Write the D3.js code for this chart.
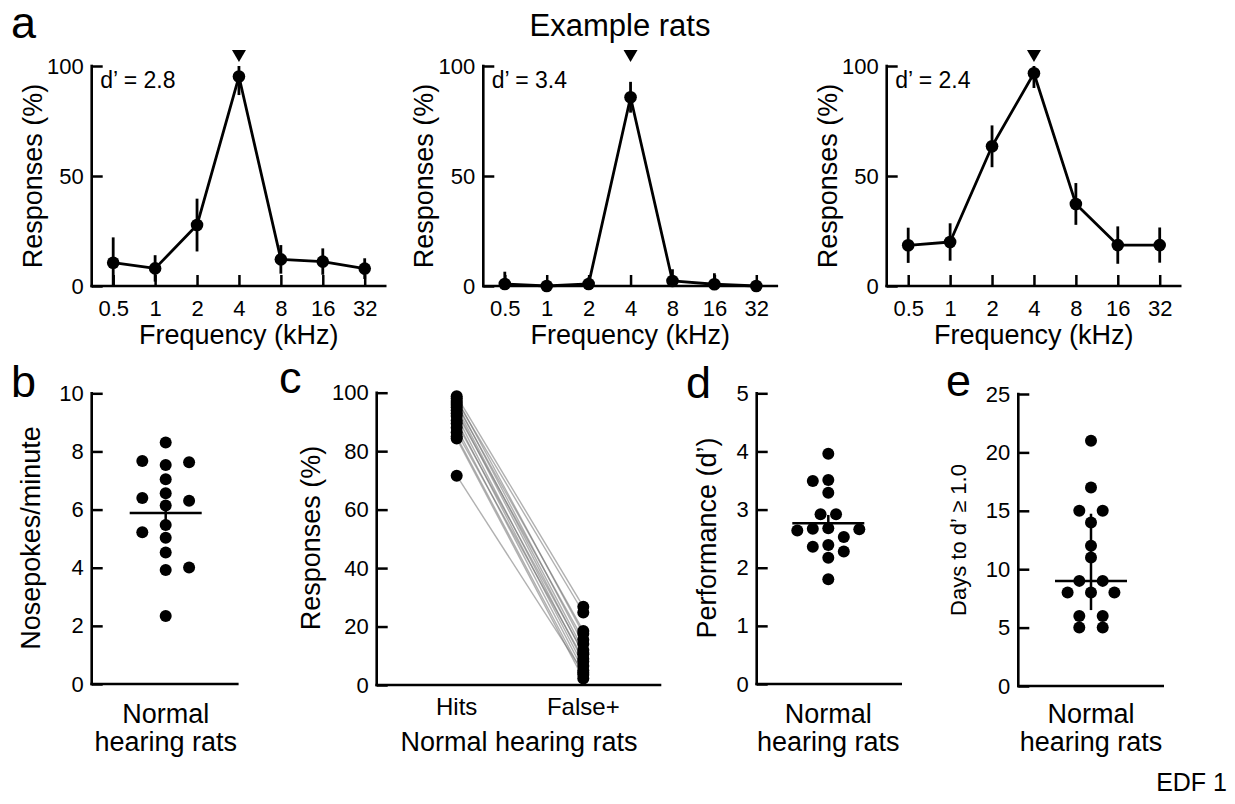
<!DOCTYPE html>
<html>
<head>
<meta charset="utf-8">
<script src="https://cdn.jsdelivr.net/npm/d3@7"></script>
<style>
    body { margin: 0; background: #fff; }
</style>
</head>
<body>
<div id="canvas"></div>
<script>
"use strict"

let svgWidth = 1235
let svgHeight = 804
let fontFamily = "'Liberation Sans', Arial, Helvetica, sans-serif"

// panel a: three example rats, responses at each tone frequency (mean and error)
let freqLabels = ["0.5", "1", "2", "4", "8", "16", "32"]
let targetFreq = "4"
let rat1Resp = [10.6, 8.0, 27.7, 95.2, 12.1, 11.1, 7.9]
let rat1Err = [11.5, 6, 12, 8.4, 6.5, 6, 4.7]
let rat2Resp = [0.9, 0, 0.9, 85.8, 2.3, 0.8, 0]
let rat2Err = [5.6, 0, 3, 7, 5.3, 5, 0]
let rat3Resp = [18.5, 20.0, 63.5, 96.7, 37.3, 18.6, 18.6]
let rat3Err = [8, 8.5, 9.5, 6.7, 9.5, 8.5, 8]
let ratDPrime = ["2.8", "3.4", "2.4"]

// panel b: nosepokes per minute, one value per rat
let nosepokes = [8.31, 7.53, 7.04, 6.56, 6.14, 5.47, 5.03, 4.52, 3.92, 2.34, 7.67, 7.63, 6.40, 6.30, 5.22, 4.01]

// panel c: hits and false positives, paired per rat
let responseTypes = ["Hits", "False+"]
let hitRates = [98.8, 98.0, 97.2, 96.5, 95.8, 95.0, 94.0, 93.0, 92.0, 90.5, 89.5, 88.0, 86.5, 85.0, 84.3, 71.6]
let falsePosRates = [26.8, 17.5, 24.8, 14.0, 18.5, 12.0, 10.5, 15.5, 8.0, 6.5, 11.0, 5.0, 9.0, 3.5, 2.2, 4.2]

// panel d: performance d'
let dPrimes = [3.96, 3.51, 3.29, 2.68, 2.39, 2.17, 1.80, 3.49, 2.53, 2.67, 2.28, 2.36, 2.66, 2.64, 2.92, 2.92]

// panel e: days to reach d' >= 1.0
let daysToCriterion = [21, 17, 15, 15, 14, 12, 11, 9, 9, 8, 8, 8, 6, 6, 5, 5]

let svg = d3.select("#canvas")
    .append("svg")
    .attr("width", svgWidth)
    .attr("height", svgHeight)
    .attr("font-family", fontFamily)

svg.append("rect")
    .attr("width", svgWidth)
    .attr("height", svgHeight)
    .attr("fill", "white")

/* small helpers */

function addText(x, y, str, size, anchor) {
    return svg.append("text")
        .attr("x", x)
        .attr("y", y)
        .attr("font-size", size)
        .attr("text-anchor", anchor || "start")
        .attr("fill", "black")
        .text(str)
}

function addLine(x1, y1, x2, y2, width, color) {
    return svg.append("line")
        .attr("x1", x1).attr("y1", y1)
        .attr("x2", x2).attr("y2", y2)
        .attr("stroke", color || "black")
        .attr("stroke-width", width)
}

// y axis with ticks pointing into the plot, as in the original figure
function drawYAxis(xPos, scale, ticks) {
    let g = svg.append("g")
        .attr("transform", `translate(${xPos},0)`)
        .call(d3.axisLeft(scale)
            .tickValues(ticks)
            .tickFormat(d3.format("d"))
            .tickSizeInner(-11)
            .tickSizeOuter(0)
            .tickPadding(8))
        .attr("font-family", fontFamily)
        .attr("font-size", 22)
    g.select(".domain").remove()
    g.selectAll(".tick line").attr("stroke-width", 2.5)
    let r = scale.range()
    addLine(xPos, r[0], xPos, r[1], 2.6).attr("stroke-linecap", "square")
}

function drawXBase(x1, x2, y) {
    addLine(x1, y, x2, y, 2.6).attr("stroke-linecap", "square")
}

function yTitle(x, yMid, str, size) {
    svg.append("text")
        .attr("transform", `translate(${x},${yMid}) rotate(-90)`)
        .attr("text-anchor", "middle")
        .attr("font-size", size)
        .text(str)
}

/*
   Scatter layout: equal values sit in one centred row,
   single points take the nearest free column, filling the emptier side first.
*/
function swarmOffsets(values, scale, step, minGap) {
    let placed = []
    let offsets = []
    let done = values.map(function () { return false })

    for (let i = 0; i < values.length; i++) {
        if (done[i]) continue
        let y = scale(values[i])

        let same = []
        for (let j = i; j < values.length; j++) {
            if (!done[j] && values[j] === values[i]) same.push(j)
        }
        if (same.length > 1) {
            same.forEach(function (j, k) {
                offsets[j] = (k - (same.length - 1) / 2) * 2 * step
                placed.push({ x: offsets[j], y: y })
                done[j] = true
            })
            continue
        }

        let isFree = function (x) {
            return placed.every(function (p) {
                return Math.abs(p.x - x) > 0.1 || Math.abs(p.y - y) >= minGap
            })
        }

        let x = 0
        if (!isFree(0)) {
            for (let k = 1; k < 10; k++) {
                let left = placed.filter(function (p) { return p.x < 0 }).length
                let right = placed.filter(function (p) { return p.x > 0 }).length
                let sides = left <= right ? [-1, 1] : [1, -1]
                let side = sides.find(function (s) { return isFree(s * k * 2 * step) })
                if (side !== undefined) {
                    x = side * k * 2 * step
                    break
                }
            }
        }
        offsets[i] = x
        placed.push({ x: x, y: y })
        done[i] = true
    }
    return offsets
}

function drawDots(cx, values, scale, step, minGap) {
    let offsets = swarmOffsets(values, scale, step, minGap)
    svg.append("g")
        .selectAll("circle")
        .data(values)
        .join("circle")
        .attr("cx", function (v, i) { return cx + offsets[i] })
        .attr("cy", function (v) { return scale(v) })
        .attr("r", 6)
        .attr("fill", "black")
}

// centre line plus vertical error bar
function drawSummary(cx, scale, centre, low, high) {
    addLine(cx, scale(low), cx, scale(high), 2.5)
    addLine(cx - 36, scale(centre), cx + 36, scale(centre), 2.5)
}

function twoLineLabel(cx) {
    addText(cx, 723, "Normal", 27, "middle")
    addText(cx, 751, "hearing rats", 27, "middle")
}

// quartiles the way GraphPad Prism computes them
function prismQuantile(sorted, p) {
    let pos = (sorted.length + 1) * p - 1
    let lo = Math.floor(pos)
    let frac = pos - lo
    return sorted[lo] + frac * (sorted[lo + 1] - sorted[lo])
}

/* ---------- panel a ---------- */

function drawTuning(ox, resp, err, dPrime) {
    let xScale = d3.scalePoint().domain(freqLabels).range([ox + 21.5, ox + 273])
    let yScale = d3.scaleLinear().domain([0, 100]).range([286, 66])

    drawYAxis(ox, yScale, [0, 50, 100])

    let xg = svg.append("g")
        .attr("transform", "translate(0,286)")
        .call(d3.axisBottom(xScale).tickSizeInner(-11).tickSizeOuter(0).tickPadding(14))
        .attr("font-family", fontFamily)
        .attr("font-size", 22)
    xg.select(".domain").remove()
    xg.selectAll(".tick line").attr("stroke-width", 2.5)
    drawXBase(ox, ox + 293.5, 286)

    let points = freqLabels.map(function (f, i) {
        return { f: f, v: resp[i], e: err[i] }
    })

    // error bars
    svg.append("g")
        .selectAll("line")
        .data(points)
        .join("line")
        .attr("x1", function (d) { return xScale(d.f) })
        .attr("x2", function (d) { return xScale(d.f) })
        .attr("y1", function (d) { return yScale(Math.max(0, d.v - d.e)) })
        .attr("y2", function (d) { return yScale(Math.min(100, d.v + d.e)) })
        .attr("stroke", "black")
        .attr("stroke-width", 2.8)

    let line = d3.line()
        .x(function (d) { return xScale(d.f) })
        .y(function (d) { return yScale(d.v) })

    svg.append("path")
        .attr("d", line(points))
        .attr("fill", "none")
        .attr("stroke", "black")
        .attr("stroke-width", 2.8)
        .attr("stroke-linejoin", "round")

    svg.append("g")
        .selectAll("circle")
        .data(points)
        .join("circle")
        .attr("cx", function (d) { return xScale(d.f) })
        .attr("cy", function (d) { return yScale(d.v) })
        .attr("r", 6.3)
        .attr("fill", "black")

    // target frequency marker
    let tx = xScale(targetFreq)
    let tri = d3.path()
    tri.moveTo(tx - 7, 50)
    tri.lineTo(tx + 7, 50)
    tri.lineTo(tx, 62)
    tri.closePath()
    svg.append("path").attr("d", tri.toString()).attr("fill", "black")

    addText(ox + 8.5, 88, "d\u2019 = " + dPrime, 23)
    yTitle(ox - 50, 176, "Responses (%)", 27)
    addText(ox + 147, 344, "Frequency (kHz)", 27, "middle")
}

addText(11, 38, "a", 45)
addText(620, 36, "Example rats", 31, "middle")
drawTuning(91.7, rat1Resp, rat1Err, ratDPrime[0])
drawTuning(483.3, rat2Resp, rat2Err, ratDPrime[1])
drawTuning(886.7, rat3Resp, rat3Err, ratDPrime[2])

/* ---------- panel b ---------- */

let yB = d3.scaleLinear().domain([0, 10]).range([684, 393.3])
let cxB = 165.7
addText(11, 397, "b", 45)
drawYAxis(91.7, yB, d3.range(0, 11, 2))
drawXBase(91.7, 237.3, 684)
drawDots(cxB, nosepokes, yB, 11.7, 11.5)
let meanB = d3.mean(nosepokes)
let semB = d3.deviation(nosepokes) / Math.sqrt(nosepokes.length)
drawSummary(cxB, yB, meanB, meanB - semB, meanB + semB)
yTitle(40, 538, "Nosepokes/minute", 27)
twoLineLabel(cxB)

/* ---------- panel c ---------- */

let yC = d3.scaleLinear().domain([0, 100]).range([685, 392.7])
let xC = d3.scalePoint().domain(responseTypes).range([456.7, 583.3])
addText(279, 393, "c", 45)
drawYAxis(376.7, yC, d3.range(0, 101, 20))
drawXBase(376.7, 660, 685)

let pairs = hitRates.map(function (h, i) { return [h, falsePosRates[i]] })

svg.append("g")
    .selectAll("line")
    .data(pairs)
    .join("line")
    .attr("x1", xC("Hits"))
    .attr("x2", xC("False+"))
    .attr("y1", function (d) { return yC(d[0]) })
    .attr("y2", function (d) { return yC(d[1]) })
    .attr("stroke", "#707070")
    .attr("stroke-opacity", 0.55)
    .attr("stroke-width", 1.4)

responseTypes.forEach(function (t, k) {
    svg.append("g")
        .selectAll("circle")
        .data(pairs)
        .join("circle")
        .attr("cx", xC(t))
        .attr("cy", function (d) { return yC(d[k]) })
        .attr("r", 6)
        .attr("fill", "black")
    addText(xC(t), 715, t, 24, "middle")
})
yTitle(320, 538, "Responses (%)", 27)
addText(519, 751, "Normal hearing rats", 27, "middle")

/* ---------- panel d ---------- */

let yD = d3.scaleLinear().domain([0, 5]).range([684, 393.3])
let cxD = 828.3
addText(686, 398, "d", 45)
drawYAxis(756.7, yD, d3.range(0, 6, 1))
drawXBase(756.7, 900.7, 684)
drawDots(cxD, dPrimes, yD, 7.75, 11.5)
let meanD = d3.mean(dPrimes)
let semD = d3.deviation(dPrimes) / Math.sqrt(dPrimes.length)
drawSummary(cxD, yD, meanD, meanD - semD, meanD + semD)
yTitle(716, 538, "Performance (d\u2019)", 27)
twoLineLabel(cxD)

/* ---------- panel e ---------- */

let yE = d3.scaleLinear().domain([0, 25]).range([686, 394])
let cxE = 1091
addText(946, 396, "e", 45)
drawYAxis(1018.3, yE, d3.range(0, 26, 5))
drawXBase(1018.3, 1162.7, 686)
drawDots(cxE, daysToCriterion, yE, 11.7, 11.5)
let sortedDays = daysToCriterion.slice().sort(d3.ascending)
drawSummary(cxE, yE, d3.median(sortedDays), prismQuantile(sortedDays, 0.25), prismQuantile(sortedDays, 0.75))
yTitle(966, 540, "Days to d\u2019 \u2265 1.0", 22)
twoLineLabel(cxE)

addText(1227, 791, "EDF 1", 25, "end")
</script>
</body>
</html>
